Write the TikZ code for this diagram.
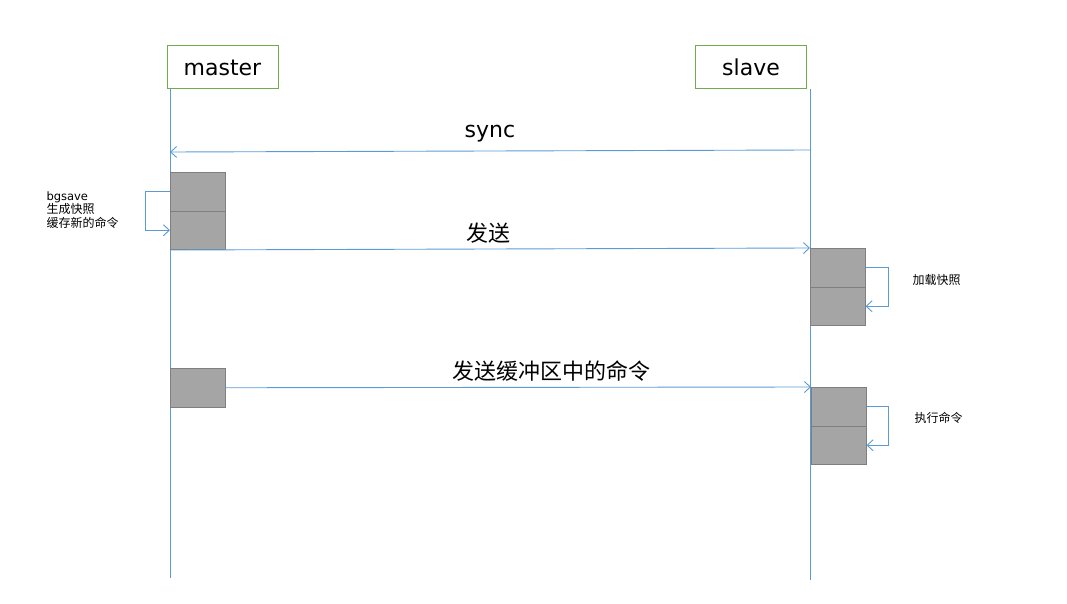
\documentclass[tikz,border=0pt]{standalone}
\usepackage{fontspec}
\setmainfont{DejaVu Sans}
\newfontfamily\cjk{Noto Sans CJK SC}
\usetikzlibrary{arrows.meta}
\definecolor{lifeblue}{HTML}{5B9BD5}
\definecolor{headgreen}{HTML}{70AD47}
\definecolor{barfill}{HTML}{A5A5A5}
\definecolor{baredge}{HTML}{7F7F7F}

\begin{document}
\begin{tikzpicture}[x=1pt,y=-1pt,
    msg/.style={lifeblue, line width=0.9pt, -{Straight Barb[length=6pt,width=11pt]}},
    head/.style={draw=headgreen, line width=1pt, minimum width=111pt, minimum height=43pt,
      inner sep=0pt, font=\fontsize{22}{26}\selectfont},
    bar/.style={fill=barfill, draw=baredge, line width=1pt, minimum width=54.5pt,
      minimum height=38.5pt, inner sep=0pt, anchor=north west},
    big/.style={text=black, font=\fontsize{22}{26}\selectfont\cjk},
    small/.style={text=black, font=\fontsize{12}{13.5}\selectfont\cjk, align=left}]
  \useasboundingbox (0,0) rectangle (1067,604);
  % heads and lifelines
  \node[head] (master) at (222.5,67.5) {master};
  \node[head] (slave) at (751,67.5) {slave};
  \coordinate (mtop) at (170,89);
  \coordinate (mbot) at (170,578);
  \coordinate (stop) at (810,89);
  \coordinate (sbot) at (810,580);
  \draw[lifeblue, line width=0.9pt] (mtop) -- (mbot);
  \draw[lifeblue, line width=0.9pt] (stop) -- (sbot);
  % activation bars
  \foreach \n/\x/\y in {m1/170/172, s1/810/248, s2/811/387}{
      \node[bar] (\n a) at (\x,\y) {};
      \node[bar] (\n b) at (\x,\y+38.5) {};
  }
  \node[bar] (m3) at (170,368) {};
  % messages
  \coordinate (syncs) at (810,150);
  \coordinate (syncm) at (170,152);
  \draw[msg] (syncs) -- (syncm)
      node[midway, above=5pt, text=black, font=\fontsize{22}{26}\selectfont] {sync};
  \draw[msg] (m1b.south west) -- (s1a.north west) node[pos=0.497, above=2pt, big] {发送};
  \draw[msg] (m3.east) -- (s2a.north west) node[pos=0.556, above=2pt, big] {发送缓冲区中的命令};
  % self loops
  \draw[msg] (m1a.west) -- ++(-25,0) |- (m1b.west);
  \draw[msg] (s1a.east) -- ++(23,0) |- (s1b.east);
  \draw[msg] (s2a.east) -- ++(22,0) |- (s2b.east);
  \node[small, anchor=west] (bgtext) at (43,210)
      {{\fontsize{11.5}{13.5}\selectfont\rmfamily bgsave}\\生成快照\\缓存新的命令};
  \node[small, anchor=west] (loadtext) at (909,280) {加载快照};
  \node[small, anchor=west] (runtext) at (911,418) {执行命令};
\end{tikzpicture}
\end{document}
